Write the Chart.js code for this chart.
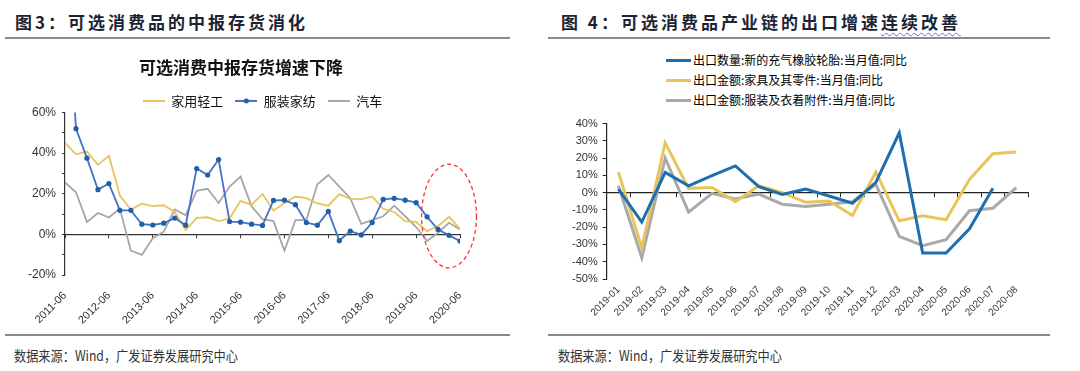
<!DOCTYPE html>
<html><head><meta charset="utf-8">
<script src="https://cdn.jsdelivr.net/npm/chart.js@4.4.1/dist/chart.umd.min.js"></script>
<style>
html,body{margin:0;padding:0;background:#fff;}
body{width:1080px;height:371px;position:relative;overflow:hidden;font-family:"Noto Sans CJK SC","Noto Sans",sans-serif;}
.hdr{position:absolute;top:10px;font-size:17px;letter-spacing:3px;color:#1c2433;font-weight:bold;white-space:nowrap;line-height:24px;}
.hdr .sq{text-decoration:underline wavy #5b6ee8;text-decoration-thickness:1px;text-underline-offset:3px;}
.rule{position:absolute;height:2px;background:#8a8a8a;}
.src{position:absolute;top:345px;font-size:14px;color:#333;white-space:nowrap;line-height:20px;transform:scaleX(0.87);transform-origin:left center;}
#w1{position:absolute;left:0;top:42px;width:496px;height:290px;}
#w2{position:absolute;left:545px;top:112px;width:500px;height:215px;}
#lg2{position:absolute;left:666px;top:50px;font-size:12px;color:#000;}
#lg2 .row{height:20px;line-height:20px;white-space:nowrap;display:flex;align-items:center;}
#lg2 .sw{display:inline-block;width:25px;height:3px;margin-right:2px;}
</style>
</head>
<body>
<div class="hdr" style="left:15px;">图3：可选消费品的中报存货消化</div>
<div class="rule" style="left:5px;width:505px;top:37px;"></div>
<div class="hdr" style="left:561px;">图 4：可选消费品产业链的出口增速<span class="sq">连续改善</span></div>
<div class="rule" style="left:548px;width:502px;top:37px;"></div>

<div id="w1"><canvas id="c1"></canvas></div>
<div id="w2"><canvas id="c2"></canvas></div>
<div id="lg2"></div>

<div class="rule" style="left:5px;width:505px;top:334px;"></div>
<div class="rule" style="left:548px;width:502px;top:334px;"></div>
<div class="src" style="left:14px;">数据来源：Wind，广发证券发展研究中心</div>
<div class="src" style="left:558px;">数据来源：Wind，广发证券发展研究中心</div>

<script>
// ---------- Figure 3 data (quarterly, 2011-06 .. 2020-06) ----------
const quartersL = ['2011-06','2011-09','2011-12','2012-03','2012-06','2012-09','2012-12','2013-03','2013-06','2013-09','2013-12','2014-03','2014-06','2014-09','2014-12','2015-03','2015-06','2015-09','2015-12','2016-03','2016-06','2016-09','2016-12','2017-03','2017-06','2017-09','2017-12','2018-03','2018-06','2018-09','2018-12','2019-03','2019-06','2019-09','2019-12','2020-03','2020-06'];
const tickLabelsL = ['2011-06','2012-06','2013-06','2014-06','2015-06','2016-06','2017-06','2018-06','2019-06','2020-06'];
const namesL = ['家用轻工','服装家纺','汽车'];
const homeLight = [45,39.4,40.7,34.2,38.6,19.1,12.2,15.1,13.9,14.3,11,2.1,8.1,8.4,6.5,7.8,16.5,14.6,19.8,11.7,15.4,18.6,17.8,15.2,14.1,19.8,17.5,17.3,18.6,12.6,11,6.5,6.1,1.6,4,8.6,2.7];
const apparel   = [140,52,37.5,22,25,11.8,11.8,5,4.6,5.5,8,4.5,32.4,29.2,36.8,6.3,6,5,4.4,16.7,16.8,14.6,5.8,4.5,11.3,-3.1,1.6,-0.3,5.8,17.2,17.7,16.8,15.6,8.6,2.4,-0.5,-3.3];
const autos     = [25.5,20.7,6.1,10.5,8.3,12.7,-8,-10.1,-1.9,1.3,12.2,9.4,21.4,22.4,15.4,23.5,28.4,13.8,7.5,6.5,-8,7,7,24.6,29.2,23.5,17.8,5.2,7,8.9,14.1,8.9,3.6,-3.3,0.8,5.7,2.4];

// ---------- Figure 4 data (monthly yoy) ----------
const monthsR = ['2019-01','2019-02','2019-03','2019-04','2019-05','2019-06','2019-07','2019-08','2019-09','2019-10','2019-11','2019-12','2020-03','2020-04','2020-05','2020-06','2020-07','2020-08'];
const namesR = ['出口数量:新的充气橡胶轮胎:当月值:同比','出口金额:家具及其零件:当月值:同比','出口金额:服装及衣着附件:当月值:同比'];
const tires     = [2,-17,11.7,4,9.8,15.5,3.5,-1,2.1,-1.9,-6.1,6,34.7,-34.9,-34.9,-20.9,2.5,null];
const furniture = [12,-32,28.9,2.5,3,-5.2,4,0,-5.6,-4.8,-13.2,12,-16.3,-13.4,-15.7,7.7,22.6,23.6];
const clothing  = [4,-37.7,20,-11.3,-0.4,-3.6,-0.8,-6.7,-8,-6.7,-5.2,4.8,-25.3,-30.7,-27.2,-10.5,-9,2.9];

// highlight ellipse (data units) on figure 3
const highlight = {x: 35, y: 9, rx: 2.5, ry: 25.5};

const TICKFONT = 'Liberation Sans, Arial, sans-serif';
const CJK = 'Noto Sans CJK SC, sans-serif';
const colL = ['#E8C45A', '#4472C4', '#A6A6A6'];
const colR = ['#1F6EAF', '#E8C55B', '#A9A9A9'];

function swatch(color, lw, dot) {
  const c = document.createElement('canvas');
  c.width = 22; c.height = 8;
  const g = c.getContext('2d');
  g.strokeStyle = color; g.lineWidth = lw;
  g.beginPath(); g.moveTo(0, 4); g.lineTo(22, 4); g.stroke();
  if (dot) { g.fillStyle = dot; g.beginPath(); g.arc(11, 4, 2.5, 0, Math.PI * 2); g.fill(); }
  return c;
}
const toXY = arr => arr.map((v, i) => ({x: i, y: v}));

const ellipsePlugin = {
  id: 'ellipse',
  afterDatasetsDraw(chart) {
    const {ctx, scales: {x, y}} = chart;
    const cx = x.getPixelForValue(highlight.x), cy = y.getPixelForValue(highlight.y);
    const rx = Math.abs(x.getPixelForValue(highlight.x + highlight.rx) - cx);
    const ry = Math.abs(y.getPixelForValue(highlight.y + highlight.ry) - cy);
    ctx.save();
    ctx.strokeStyle = '#FF3030'; ctx.lineWidth = 1.3; ctx.setLineDash([4, 3]);
    ctx.beginPath(); ctx.ellipse(cx, cy, rx, ry, 0, 0, Math.PI * 2); ctx.stroke();
    ctx.restore();
  }
};

const sw1 = [swatch(colL[0], 2), swatch(colL[1], 2, '#1F5FAA'), swatch(colL[2], 2)];

new Chart(document.getElementById('c1'), {
  type: 'line',
  data: {
    datasets: [
      {label: namesL[0], data: toXY(homeLight), borderColor: colL[0], borderWidth: 1.8, pointRadius: 0, order: 1},
      {label: namesL[1], data: toXY(apparel), borderColor: colL[1], borderWidth: 1.8, pointRadius: 2.6, pointStyle: 'circle', pointBackgroundColor: '#1F5FAA', pointBorderColor: '#1F5FAA', pointBorderWidth: 0, order: 0},
      {label: namesL[2], data: toXY(autos), borderColor: colL[2], borderWidth: 1.8, pointRadius: 0, order: 2}
    ]
  },
  options: {
    responsive: true, maintainAspectRatio: false, animation: false,
    layout: {padding: {left: 22, right: 36, top: 0, bottom: 6}},
    plugins: {
      tooltip: {enabled: false},
      title: {display: true, text: '可选消费中报存货增速下降', color: '#111', font: {family: CJK, size: 17, weight: 'bold'}, padding: {top: 15, bottom: 5}},
      legend: {
        display: true, position: 'top', align: 'center', maxHeight: 30, fullSize: false,
        labels: {
          usePointStyle: true, pointStyleWidth: 22, padding: 12, color: '#111',
          font: {family: CJK, size: 13},
          generateLabels: chart => chart.data.datasets.map((d, i) => ({
            text: d.label, pointStyle: sw1[i], fillStyle: d.borderColor, strokeStyle: d.borderColor,
            lineWidth: 0, hidden: false, datasetIndex: i, fontColor: '#111'
          }))
        }
      }
    },
    scales: {
      x: {
        type: 'linear', min: 0, max: quartersL.length - 1, position: 'bottom',
        grid: {display: false, drawTicks: false}, border: {display: false},
        ticks: {stepSize: 4, autoSkip: false, minRotation: 45, maxRotation: 45, padding: 14, color: '#333',
                font: {family: TICKFONT, size: 11}, callback: v => tickLabelsL[v / 4]},
        afterFit: s => { s.height = 51; }
      },
      x0: {
        type: 'linear', min: 0, max: quartersL.length - 1, position: {y: 0},
        ticks: {display: false, stepSize: 4},
        grid: {drawOnChartArea: false, drawTicks: true, tickLength: 3, color: '#333', lineWidth: 1},
        border: {display: true, color: '#333', width: 1.2}
      },
      y: {
        min: -20, max: 60,
        ticks: {stepSize: 10, autoSkip: false, padding: 6, color: '#333', font: {family: TICKFONT, size: 12},
                callback: v => (v % 20 === 0 ? v + '%' : '')},
        grid: {drawOnChartArea: false, tickLength: 3, color: '#333'},
        border: {display: true, color: '#333', width: 1.2}
      }
    }
  },
  plugins: [ellipsePlugin]
});

const chart2 = new Chart(document.getElementById('c2'), {
  type: 'line',
  data: {
    labels: monthsR,
    datasets: [
      {label: namesR[0], data: tires, borderColor: colR[0], borderWidth: 3, pointRadius: 0, order: 0},
      {label: namesR[1], data: furniture, borderColor: colR[1], borderWidth: 3, pointRadius: 0, order: 1},
      {label: namesR[2], data: clothing, borderColor: colR[2], borderWidth: 3, pointRadius: 0, order: 2}
    ]
  },
  options: {
    responsive: true, maintainAspectRatio: false, animation: false,
    layout: {padding: {left: 22, right: 17, top: 10, bottom: 4}},
    plugins: {tooltip: {enabled: false}, legend: {display: false}, title: {display: false}},
    scales: {
      x: {
        type: 'category', offset: true, position: 'bottom',
        grid: {display: false, drawTicks: false}, border: {display: false},
        ticks: {autoSkip: false, minRotation: 45, maxRotation: 45, padding: 5, color: '#333',
                font: {family: TICKFONT, size: 10}},
        afterFit: s => { s.height = 44; }
      },
      x0: {
        type: 'category', offset: true, position: {y: 0},
        ticks: {display: false},
        grid: {offset: true, drawOnChartArea: false, drawTicks: true, tickLength: 4, color: '#222', lineWidth: 1},
        border: {display: true, color: '#222', width: 1.2}
      },
      y: {
        min: -50, max: 40,
        ticks: {stepSize: 10, autoSkip: false, padding: 5, color: '#333', font: {family: TICKFONT, size: 11}, callback: v => v + '%'},
        grid: {drawOnChartArea: false, tickLength: 4, color: '#222'},
        border: {display: true, color: '#222', width: 1.2}
      }
    }
  }
});

// HTML legend for figure 4 (vertical list)
const lg = document.getElementById('lg2');
chart2.data.datasets.forEach(d => {
  const row = document.createElement('div'); row.className = 'row';
  const s = document.createElement('span'); s.className = 'sw'; s.style.background = d.borderColor;
  const t = document.createElement('span'); t.textContent = d.label;
  row.appendChild(s); row.appendChild(t); lg.appendChild(row);
});
</script>
</body></html>
